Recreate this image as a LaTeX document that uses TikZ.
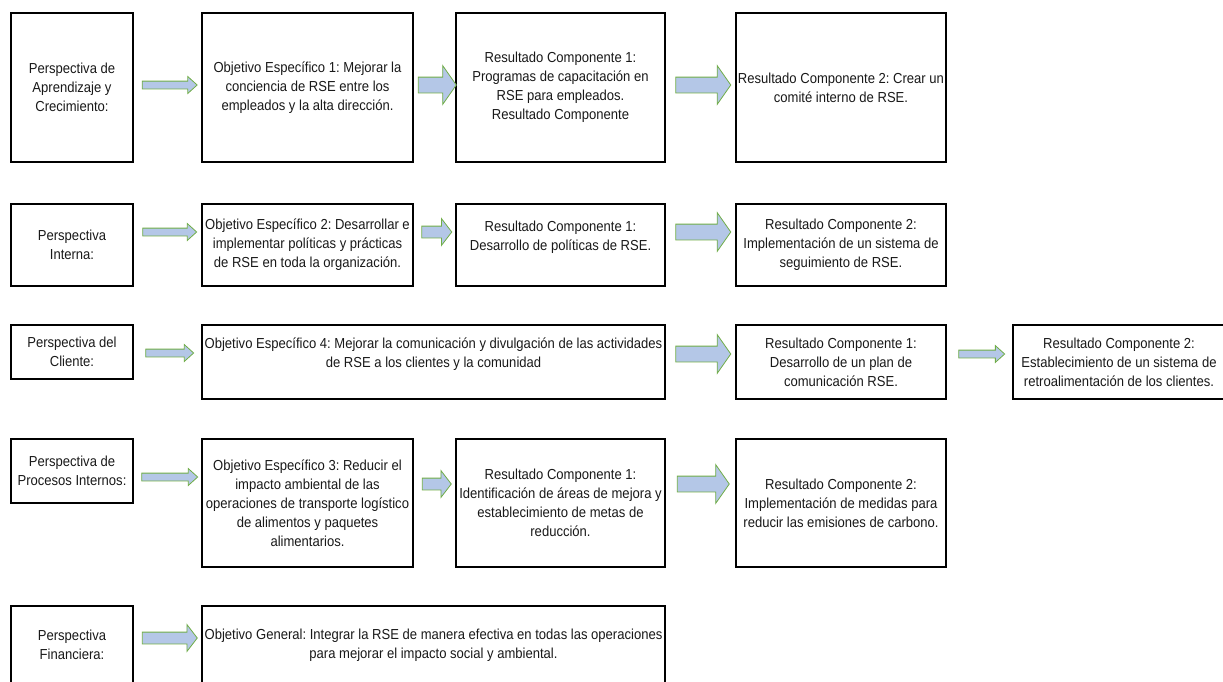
\documentclass[tikz,border=0pt]{standalone}
\usepackage{fontspec}
\setmainfont{Liberation Sans}[FakeStretch=0.9]
\frenchspacing
\usetikzlibrary{shapes.arrows}

\definecolor{arrowfill}{HTML}{B4C7E7}
\definecolor{arrowline}{HTML}{70AD47}

\tikzset{
  box/.style={draw=black, line width=1.6pt, align=center, inner sep=0pt,
    font=\fontsize{14.5}{19}\selectfont, text=black!90},
  blockarr/.style={single arrow, draw=arrowline, fill=arrowfill, line width=0.8pt,
    inner xsep=0pt, single arrow head indent=0pt},
  thinarr/.style={blockarr, inner ysep=3.5pt, single arrow head extend=4.5pt, single arrow tip angle=84},
  midarr/.style={blockarr, inner ysep=5.5pt, single arrow head extend=7.5pt, single arrow tip angle=105},
  fatarr/.style={blockarr, inner ysep=7.5pt, single arrow head extend=11.5pt, single arrow tip angle=110}
}

\begin{document}
\begin{tikzpicture}[x=1pt, y=-1pt]
  \useasboundingbox (0,0) rectangle (1223,681);

  % Aprendizaje y Crecimiento
  \node[box, minimum width=122pt, minimum height=149pt] (p1) at (72,87.5) {Perspectiva de\\Aprendizaje y\\Crecimiento:};
  \node[box, minimum width=211pt, minimum height=149pt] (o1) at (307.5,87.5) {Objetivo Específico 1: Mejorar la\\conciencia de RSE entre los\\empleados y la alta dirección.};
  \node[box, minimum width=209pt, minimum height=149pt] (r11) at (560.5,87.5) {Resultado Componente 1:\\Programas de capacitación en\\RSE para empleados.\\Resultado Componente};
  \node[box, minimum width=210pt, minimum height=149pt] (r12) at (841,87.5) {Resultado Componente 2: Crear un\\comité interno de RSE.};

  % Interna
  \node[box, minimum width=122pt, minimum height=82pt] (p2) at (72,245) {Perspectiva\\Interna:};
  \node[box, minimum width=211pt, minimum height=82pt] (o2) at (307.5,245) {Objetivo Específico 2: Desarrollar e\\implementar políticas y prácticas\\de RSE en toda la organización.};
  \node[box, minimum width=209pt, minimum height=82pt] (r21) at (560.5,245) {Resultado Componente 1:\\Desarrollo de políticas de RSE.\\\mbox{}};
  \node[box, minimum width=210pt, minimum height=82pt] (r22) at (841,245) {Resultado Componente 2:\\Implementación de un sistema de\\seguimiento de RSE.};

  % Cliente
  \node[box, minimum width=122pt, minimum height=54pt] (p3) at (72,352) {Perspectiva del\\Cliente:};
  \node[box, minimum width=463pt, minimum height=74pt] (o4) at (433.5,362) {Objetivo Específico 4: Mejorar la comunicación y divulgación de las actividades\\de RSE a los clientes y la comunidad\\\mbox{}};
  \node[box, minimum width=210pt, minimum height=74pt] (r31) at (841,362) {Resultado Componente 1:\\Desarrollo de un plan de\\comunicación RSE.};
  \node[box, minimum width=212pt, minimum height=74pt] (r32) at (1119,362) {Resultado Componente 2:\\Establecimiento de un sistema de\\retroalimentación de los clientes.};

  % Procesos Internos
  \node[box, minimum width=122pt, minimum height=64pt] (p4) at (72,471) {Perspectiva de\\Procesos Internos:};
  \node[box, minimum width=211pt, minimum height=128pt] (o3) at (307.5,503) {Objetivo Específico 3: Reducir el\\impacto ambiental de las\\operaciones de transporte logístico\\de alimentos y paquetes\\alimentarios.};
  \node[box, minimum width=209pt, minimum height=128pt] (r41) at (560.5,503) {Resultado Componente 1:\\Identificación de áreas de mejora y\\establecimiento de metas de\\reducción.};
  \node[box, minimum width=210pt, minimum height=128pt] (r42) at (841,503) {Resultado Componente 2:\\Implementación de medidas para\\reducir las emisiones de carbono.};

  % Financiera
  \node[box, minimum width=122pt, minimum height=78pt] (p5) at (72,645) {Perspectiva\\Financiera:};
  \node[box, minimum width=463pt, minimum height=78pt] (og) at (433.5,645) {Objetivo General: Integrar la RSE de manera efectiva en todas las operaciones\\para mejorar el impacto social y ambiental.};

  % block arrows between the boxes
  \foreach \from/\to/\kind/\len/\yy in {
      p1/o1/thinarr/55/85, o1/r11/fatarr/38/85, r11/r12/fatarr/55/85,
      p2/o2/thinarr/54/232, o2/r21/midarr/30/232, r21/r22/fatarr/55/232,
      p3/o4/thinarr/48/353, o4/r31/fatarr/55/354, r31/r32/thinarr/46/354,
      p4/o3/thinarr/56/477, o3/r41/midarr/29/484, r41/r42/fatarr/52/484,
      p5/og/midarr/55/638} {
    \path (\from.east |- 0,\yy) -- (\to.west |- 0,\yy)
      node[midway, \kind, minimum height=\len pt] (\from-\to) {};
  }
\end{tikzpicture}
\end{document}
